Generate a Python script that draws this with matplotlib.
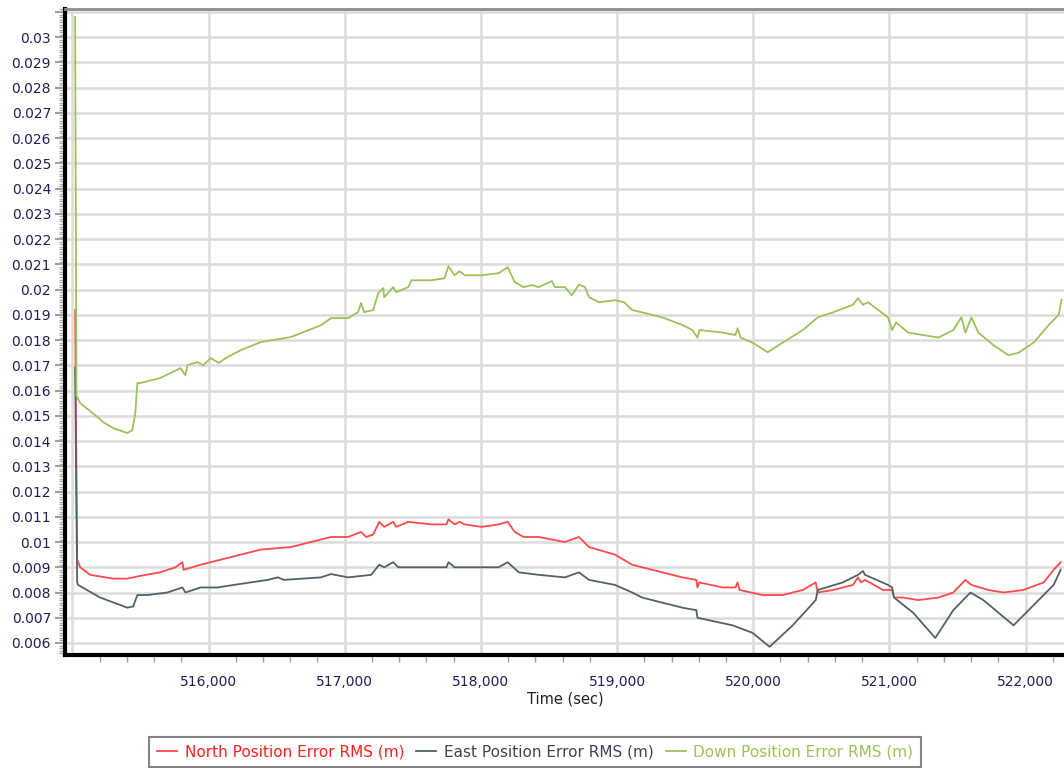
import matplotlib.pyplot as plt
from matplotlib.ticker import MultipleLocator, FuncFormatter

# Time (sec) and RMS values
north_t = [515020, 515035, 515057, 515130, 515300, 515403, 515499, 515646, 515757,
           515808, 515816, 515941, 516015, 516162, 516383, 516604, 516826, 516899,
           517025, 517120, 517157, 517209, 517253, 517290, 517356, 517378, 517467,
           517636, 517747, 517762, 517806, 517843, 517880, 518005, 518130, 518197,
           518248, 518314, 518425, 518617, 518720, 518794, 518985, 519111, 519184,
           519332, 519479, 519582, 519590, 519604, 519775, 519870, 519885, 519900,
           520069, 520216, 520364, 520459, 520474, 520585, 520732, 520769, 520791,
           520821, 520953, 521020, 521034, 521101, 521211, 521359, 521469, 521558,
           521602, 521727, 521838, 521985, 522133, 522206, 522258]
north_v = [0.0192, 0.0093, 0.0090, 0.0087, 0.00855, 0.00855, 0.00866, 0.0088, 0.0090,
           0.0092, 0.0089, 0.0091, 0.0092, 0.0094, 0.0097, 0.0098, 0.0101, 0.0102,
           0.0102, 0.0104, 0.0102, 0.0103, 0.0108, 0.0106, 0.0108, 0.0106, 0.0108,
           0.0107, 0.0107, 0.0109, 0.0107, 0.0108, 0.0107, 0.0106, 0.0107, 0.0108,
           0.0104, 0.0102, 0.0102, 0.0100, 0.0102, 0.0098, 0.0095, 0.0091, 0.0090,
           0.0088, 0.0086, 0.0085, 0.0082, 0.0084, 0.0082, 0.0082, 0.0084, 0.0081,
           0.0079, 0.0079, 0.0081, 0.0084, 0.0080, 0.0081, 0.0083, 0.0086, 0.0084,
           0.0085, 0.0081, 0.0081, 0.0078, 0.0078, 0.0077, 0.0078, 0.0080, 0.0085,
           0.0083, 0.0081, 0.0080, 0.0081, 0.0084, 0.0089, 0.0092]

east_t = [515020, 515035, 515042, 515204, 515403, 515447, 515477, 515550, 515698,
          515808, 515830, 515941, 516066, 516184, 516435, 516509, 516553, 516826,
          516899, 517025, 517194, 517253, 517290, 517356, 517393, 517511, 517747,
          517762, 517806, 518130, 518197, 518278, 518425, 518617, 518720, 518794,
          518985, 519111, 519184, 519479, 519582, 519590, 519848, 519995, 520120,
          520290, 520459, 520474, 520658, 520769, 520806, 520821, 520990, 521020,
          521034, 521174, 521337, 521469, 521595, 521690, 521912, 522059, 522206,
          522258]
east_v = [0.0169, 0.0084, 0.0083, 0.0078, 0.0074, 0.00745, 0.0079, 0.0079, 0.0080,
          0.0082, 0.0080, 0.0082, 0.0082, 0.0083, 0.0085, 0.0086, 0.0085, 0.0086,
          0.00873, 0.0086, 0.0087, 0.0091, 0.0090, 0.0092, 0.0090, 0.0090, 0.0090,
          0.0092, 0.0090, 0.0090, 0.0092, 0.0088, 0.0087, 0.0086, 0.0088, 0.0085,
          0.0083, 0.0080, 0.0078, 0.0074, 0.0073, 0.0070, 0.0067, 0.0064, 0.00585,
          0.0067, 0.0077, 0.0081, 0.0084, 0.0087, 0.00885, 0.0087, 0.0083, 0.0082,
          0.0078, 0.0072, 0.0062, 0.0073, 0.0080, 0.0077, 0.0067, 0.0075, 0.0083,
          0.0089]

down_t = [515020, 515030, 515057, 515152, 515226, 515300, 515403, 515440, 515462,
          515477, 515499, 515646, 515794, 515830, 515845, 515919, 515960, 516015,
          516074, 516140, 516236, 516383, 516604, 516826, 516899, 517025, 517098,
          517120, 517142, 517209, 517246, 517283, 517290, 517356, 517378, 517467,
          517489, 517636, 517732, 517762, 517806, 517843, 517880, 518005, 518130,
          518197, 518248, 518314, 518374, 518425, 518521, 518543, 518617, 518668,
          518720, 518764, 518794, 518867, 518985, 519052, 519111, 519184, 519332,
          519479, 519553, 519590, 519604, 519775, 519870, 519885, 519907, 519995,
          520106, 520216, 520364, 520474, 520585, 520732, 520769, 520806, 520843,
          520990, 521020, 521049, 521137, 521248, 521359, 521469, 521528, 521558,
          521602, 521653, 521764, 521875, 521948, 522059, 522170, 522243, 522265]
down_v = [0.0308, 0.0158, 0.0155, 0.0151, 0.01475, 0.01451, 0.01432, 0.01443, 0.0151,
          0.0163, 0.0163, 0.0165, 0.01689, 0.01661, 0.01701, 0.01713, 0.0170, 0.01729,
          0.0171, 0.01733, 0.0176, 0.01792, 0.01812, 0.01859, 0.01887, 0.01887, 0.01911,
          0.01947, 0.01911, 0.01919, 0.01986, 0.02006, 0.0197, 0.0201, 0.0199, 0.0201,
          0.02037, 0.02037, 0.02045, 0.02093, 0.02057, 0.02073, 0.02057, 0.02057, 0.02065,
          0.02089, 0.0203, 0.0201, 0.02018, 0.0201, 0.02034, 0.0201, 0.0201, 0.01978,
          0.0202, 0.0201, 0.0197, 0.0195, 0.01958, 0.0195, 0.01919, 0.0191, 0.0189,
          0.0186, 0.0184, 0.0181, 0.0184, 0.0183, 0.0182, 0.01847, 0.0181, 0.0179,
          0.01752, 0.0179, 0.0184, 0.0189, 0.0191, 0.0194, 0.01966, 0.0194, 0.0195,
          0.0189, 0.0184, 0.0187, 0.0183, 0.0182, 0.0181, 0.0184, 0.0189, 0.0183,
          0.0189, 0.0183, 0.0178, 0.0174, 0.0175, 0.0179, 0.0186, 0.0190, 0.0196]

series_names = ['North Position Error RMS (m)', 'East Position Error RMS (m)',
                'Down Position Error RMS (m)']
line_colors = ['#ff4a4a', '#4f6468', '#9cc25a']
text_colors = ['#ff2020', '#3a4656', '#9cc25a']

fig = plt.figure(figsize=(10.64, 7.68), dpi=100)
ax = fig.add_axes([0.061, 0.147, 0.94, 0.841])

ax.plot(north_t, north_v, color=line_colors[0], lw=1.3, label=series_names[0], zorder=3)
ax.plot(east_t, east_v, color=line_colors[1], lw=1.3, label=series_names[1], zorder=3)
ax.plot(down_t, down_v, color=line_colors[2], lw=1.3, label=series_names[2], zorder=3)

ax.set_xlim(514945, 522290)
ax.set_ylim(0.00552, 0.03111)

ax.xaxis.set_major_locator(MultipleLocator(1000))
ax.xaxis.set_minor_locator(MultipleLocator(200))
ax.yaxis.set_major_locator(MultipleLocator(0.001))
ax.yaxis.set_minor_locator(MultipleLocator(0.0001))
ax.xaxis.set_major_formatter(FuncFormatter(lambda v, p: f'{int(v):,}' if v >= 515500 else ''))
ax.yaxis.set_major_formatter(FuncFormatter(lambda v, p: f'{v:.3f}'.rstrip('0') if v > 0.0058 and v < 0.0305 else ''))

ax.grid(True, which='major', color='#dcdcdc', lw=1.8)
ax.set_axisbelow(True)

ax.tick_params(axis='y', which='major', length=7, width=1.5, color='#a0a0a0',
               labelsize=10, labelcolor='#20205a', pad=3)
ax.tick_params(axis='y', which='minor', length=4, width=1, color='#b0b0b0')
ax.tick_params(axis='x', which='major', length=0, labelsize=10, labelcolor='#20205a', pad=14)
ax.tick_params(axis='x', which='minor', length=5, width=1, color='#a0a0a0')

ax.spines['left'].set_color('black')
ax.spines['left'].set_linewidth(3)
ax.spines['bottom'].set_color('black')
ax.spines['bottom'].set_linewidth(3)
ax.spines['top'].set_color('#8c8c8c')
ax.spines['top'].set_linewidth(2)
ax.spines['right'].set_visible(False)

ax.set_xlabel('Time (sec)', fontsize=10.5, color='#222222', labelpad=2)

leg = fig.legend(loc='center', bbox_to_anchor=(0.503, 0.021), ncol=3, fontsize=11,
                 frameon=True, fancybox=False, handlelength=1.3, handletextpad=0.5,
                 columnspacing=0.8, borderpad=0.5)
leg.get_frame().set_edgecolor('#666666')
leg.get_frame().set_linewidth(1.5)
for txt, c in zip(leg.get_texts(), text_colors):
    txt.set_color(c)

plt.savefig('out.png', dpi=100)
